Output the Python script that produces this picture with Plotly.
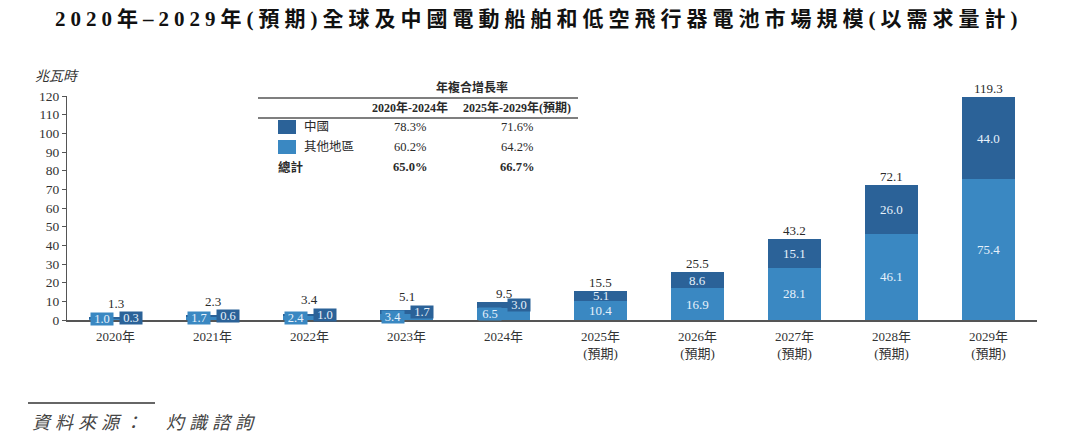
import plotly.graph_objects as go

# ---------------- data ----------------
years = ["2020年", "2021年", "2022年", "2023年", "2024年",
         "2025年(預期)", "2026年(預期)", "2027年(預期)", "2028年(預期)", "2029年(預期)"]
tick_text = ["2020年", "2021年", "2022年", "2023年", "2024年",
             "2025年<br>(預期)", "2026年<br>(預期)", "2027年<br>(預期)", "2028年<br>(預期)", "2029年<br>(預期)"]
china = [0.3, 0.6, 1.0, 1.7, 3.0, 5.1, 8.6, 15.1, 26.0, 44.0]
other = [1.0, 1.7, 2.4, 3.4, 6.5, 10.4, 16.9, 28.1, 46.1, 75.4]
total = [1.3, 2.3, 3.4, 5.1, 9.5, 15.5, 25.5, 43.2, 72.1, 119.3]
y_ticks = list(range(0, 121, 10))

cagr_title = "年複合增長率"
cagr_headers = ["2020年-2024年", "2025年-2029年(預期)"]
cagr_rows = ["中國", "其他地區", "總計"]
cagr_values = [["78.3%", "71.6%"], ["60.2%", "64.2%"], ["65.0%", "66.7%"]]

title_text = "2020年–2029年(預期)全球及中國電動船舶和低空飛行器電池市場規模(以需求量計)"
unit_text = "兆瓦時"
source_text = "資料來源：  灼識諮詢"

# ---------------- style ----------------
DARK = "#2B6298"
LIGHT = "#3A88C2"
INK = "#2a2a2a"
LABEL_IN = "#E6F1FB"
FONT = "Liberation Serif, Noto Sans CJK TC, serif"

W, H = 1080, 442
OFF = 8  # page body margin
# page-pixel plot area: x 67..1037, y 96..320
PL, PR, PT, PB = 67, 1037, 96, 320
L = PL - OFF
T = PT - OFF
R = W - (PR - OFF)
B = H - (PB - OFF)


def px(x):
    return (x - PL) / (PR - PL)


def py(y):
    return (PB - y) / (PB - PT)


fig = go.Figure()
fig.add_trace(go.Bar(name="其他地區", x=years, y=other, marker=dict(color=LIGHT, line=dict(width=0)),
                     width=0.55, hoverinfo="skip"))
fig.add_trace(go.Bar(name="中國", x=years, y=china, marker=dict(color=DARK, line=dict(width=0)),
                     width=0.55, hoverinfo="skip"))

ann = []
for i, yr in enumerate(years):
    small = total[i] < 12
    ann.append(dict(x=yr, y=total[i], text=f"{total[i]:.1f}", showarrow=False,
                    yanchor="middle", yshift=9 + (5 if total[i] < 6 else 0),
                    font=dict(family=FONT, size=13, color=INK)))
    if small:
        ann.append(dict(x=yr, y=other[i] / 2, text=f"{other[i]:.1f}", showarrow=False,
                        xshift=-14, bgcolor=LIGHT, width=22, height=12, borderpad=0,
                        font=dict(family=FONT, size=12.5, color=LABEL_IN)))
        ann.append(dict(x=yr, y=other[i] + china[i] / 2, text=f"{china[i]:.1f}", showarrow=False,
                        xshift=15, bgcolor=DARK, width=22, height=12, borderpad=0,
                        font=dict(family=FONT, size=12.5, color=LABEL_IN)))
    else:
        ann.append(dict(x=yr, y=other[i] / 2, text=f"{other[i]:.1f}", showarrow=False,
                        font=dict(family=FONT, size=13, color=LABEL_IN)))
        ann.append(dict(x=yr, y=other[i] + china[i] / 2, text=f"{china[i]:.1f}", showarrow=False,
                        font=dict(family=FONT, size=13, color=LABEL_IN)))


def pann(x, y, text, size, color=INK, xanchor="center"):
    ann.append(dict(xref="paper", yref="paper", x=px(x), y=py(y), showarrow=False,
                    xanchor=xanchor, yanchor="middle", text=text,
                    font=dict(family=FONT, size=size, color=color)))


pann(538, 19, f"<b><span style='letter-spacing:5px'>{title_text}</span></b>", 21, "#111")
pann(57, 76, f"<i>{unit_text}</i>", 14, "#333")
pann(30, 423, f"<i><span style='letter-spacing:5px'>{source_text}</span></i>", 18, "#444", "left")

# CAGR table
pann(472, 87, f"<b>{cagr_title}</b>", 12)
col_x = [410, 517]
for j, h in enumerate(cagr_headers):
    pann(col_x[j], 107, f"<b>{h}</b>", 12)
row_y = [127, 147, 167]
for r, name in enumerate(cagr_rows):
    bold = r == len(cagr_rows) - 1
    pann(276 if bold else 302, row_y[r], f"<b>{name}</b>" if bold else name, 12.5, INK, "left")
    for j, v in enumerate(cagr_values[r]):
        pann(col_x[j], row_y[r], f"<b>{v}</b>" if bold else v, 12.5)

shapes = []
for yy in (98, 118):
    shapes.append(dict(type="line", xref="paper", yref="paper", x0=px(258), x1=px(578),
                       y0=py(yy), y1=py(yy), line=dict(color="#555", width=1.5)))
for r, c in enumerate([DARK, LIGHT]):
    shapes.append(dict(type="rect", xref="paper", yref="paper", x0=px(278), x1=px(296),
                       y0=py(row_y[r] + 7), y1=py(row_y[r] - 7), fillcolor=c, line=dict(width=0)))
shapes.append(dict(type="line", xref="paper", yref="paper", x0=px(28), x1=px(155),
                   y0=py(403), y1=py(403), line=dict(color="#666", width=2)))

fig.update_layout(
    width=W, height=H, barmode="stack", bargap=0.45,
    margin=dict(l=L, r=R, t=T, b=B),
    paper_bgcolor="white", plot_bgcolor="white",
    showlegend=False,
    annotations=ann, shapes=shapes,
    font=dict(family=FONT, size=13, color=INK),
)
fig.update_xaxes(type="category", tickmode="array", tickvals=years, ticktext=tick_text,
                 showline=True, linecolor="#555", linewidth=1.5, ticks="", showgrid=False,
                 ticklabelstandoff=4,
                 tickfont=dict(family=FONT, size=13, color="#333"), range=[-0.5, 9.5])
fig.update_yaxes(range=[0, 120], tickmode="array", tickvals=y_ticks, showgrid=False,
                 showline=True, linecolor="#555", linewidth=1.2, ticks="outside", ticklen=4,
                 tickcolor="#555", zeroline=False,
                 tickfont=dict(family=FONT, size=13.5, color="#333"))

fig.write_html("out.html")
